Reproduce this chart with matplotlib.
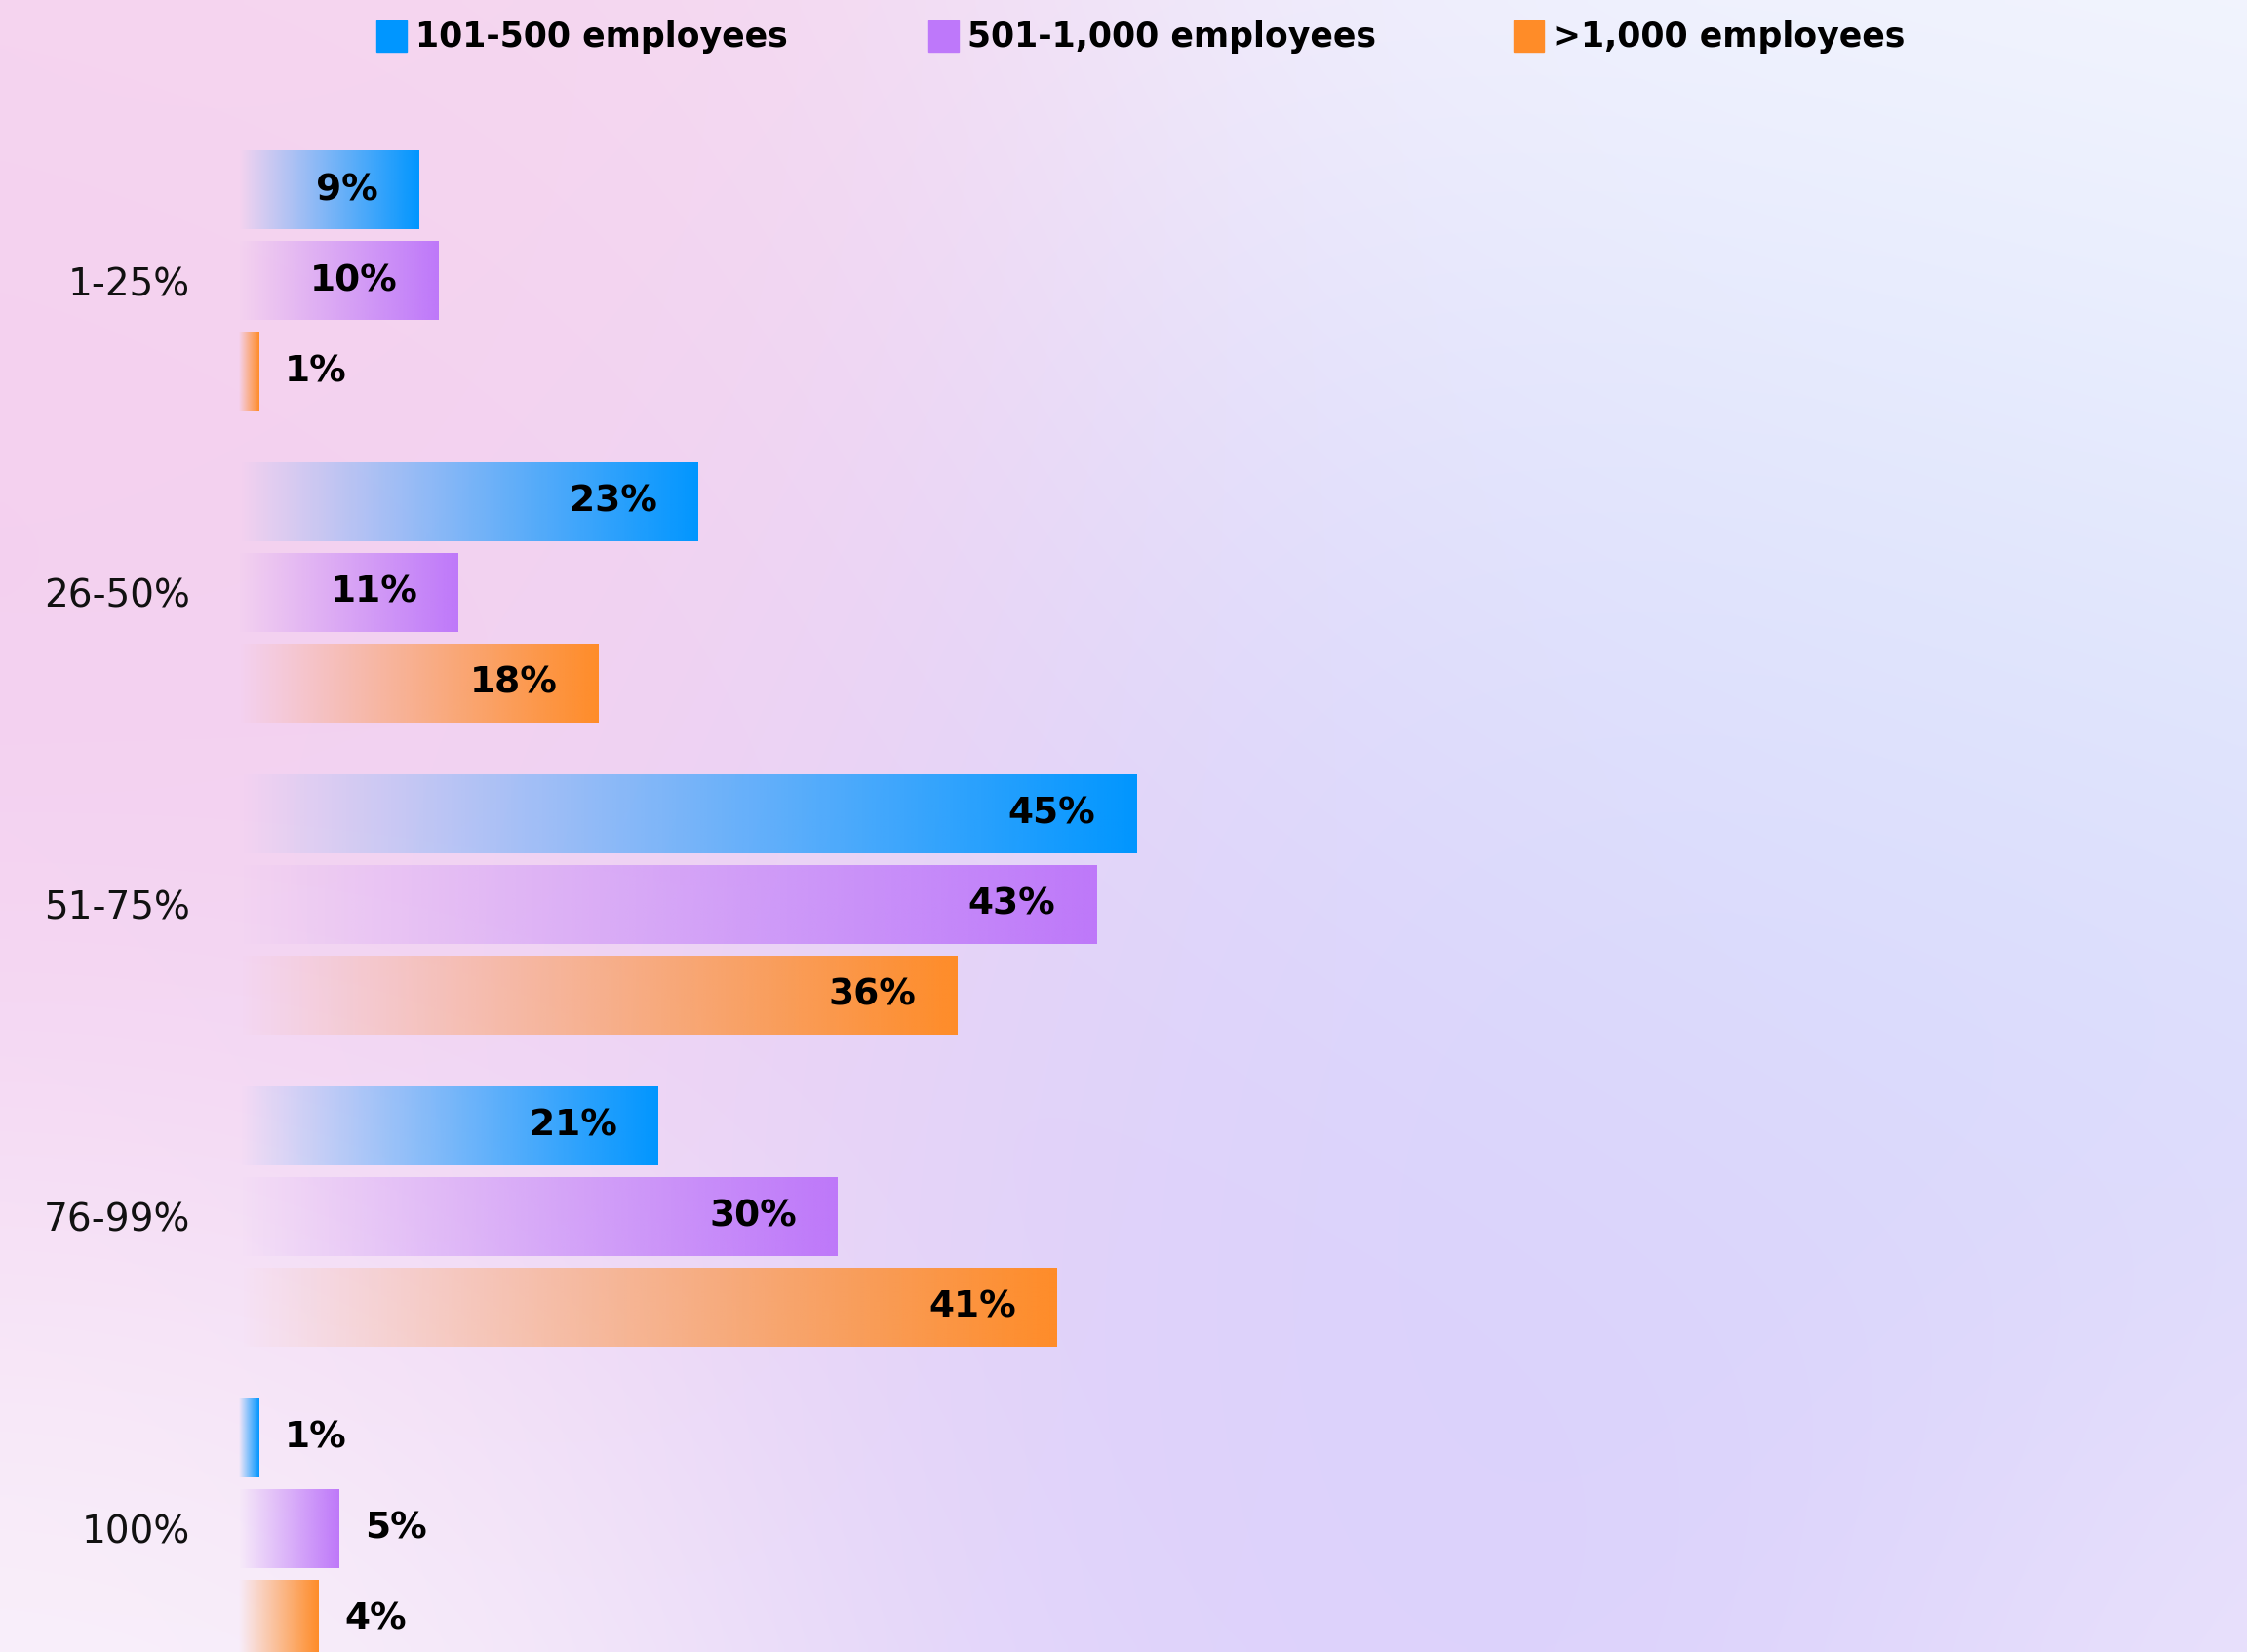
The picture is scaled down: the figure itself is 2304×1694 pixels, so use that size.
import numpy as np
import matplotlib
matplotlib.use("Agg")
import matplotlib.pyplot as plt
from matplotlib.colors import to_rgb
from matplotlib.patches import Rectangle

# share of work done remotely, by company size
categories = ['1-25%', '26-50%', '51-75%', '76-99%', '100%']
series = ['101-500 employees', '501-1,000 employees', '>1,000 employees']
small_co = [9, 23, 45, 21, 1]
mid_co = [10, 11, 43, 30, 5]
large_co = [1, 18, 36, 41, 4]
colors = ['#0096FF', '#BE78FA', '#FF8C28']

values = [small_co, mid_co, large_co]

W, H = 2304, 1694
fig = plt.figure(figsize=(W / 100, H / 100), dpi=100)

# soft colour wash behind everything
bg = fig.add_axes([0, 0, 1, 1], zorder=-1)
gh, gw = 170, 230
yy, xx = np.mgrid[0:gh, 0:gw]
xx = xx * W / gw
yy = yy * H / gh
blobs = [
    ('#F3C8EE', 0, 700, 650, 1.0),
    ('#F8D8EC', 300, 0, 500, 0.6),
    ('#D6CAFC', 1650, 1250, 600, 1.0),
    ('#D4E2FC', 2000, 600, 450, 1.3),
    ('#FCFCFE', 0, 1694, 420, 1.0),
    ('#FBFCFF', 2100, 0, 500, 1.5),
    ('#F2EAFC', 2304, 1694, 300, 0.6),
]
acc = np.zeros((gh, gw, 3))
wsum = np.full((gh, gw), 0.2)
acc += 0.2 * np.array(to_rgb('#F4EEFB'))
for c, cx, cy, s, k in blobs:
    w = k * np.exp(-((xx - cx) ** 2 + (yy - cy) ** 2) / (2 * s ** 2))
    acc += w[..., None] * np.array(to_rgb(c))
    wsum += w
bg.imshow(acc / wsum[..., None], extent=(0, 1, 0, 1), aspect='auto', interpolation='bilinear')
bg.set_axis_off()

ax = fig.add_axes([245 / W, 0, 1 - 245 / W, 1])
ax.patch.set_alpha(0)

group_gap = 3.44
bar_h = 0.87
centers = np.arange(len(categories)) * group_gap

ramp = np.linspace(0, 1, 256)
for si, (vals, col) in enumerate(zip(values, colors)):
    rgb = np.array(to_rgb(col))
    img = np.zeros((1, 256, 4))
    img[0, :, :3] = rgb
    img[0, :, 3] = ramp
    for ci, v in enumerate(vals):
        y = centers[ci] + (si - 1)
        ax.imshow(img, extent=(0, v, y + bar_h / 2, y - bar_h / 2),
                  aspect='auto', interpolation='bilinear', zorder=2)
        if v >= 8:
            ax.annotate(f'{v}%', (v, y), xytext=(-30, 0), textcoords='offset points',
                        ha='right', va='center', fontsize=27, fontweight='bold',
                        zorder=3)
        else:
            ax.annotate(f'{v}%', (v, y), xytext=(19, 0), textcoords='offset points',
                        ha='left', va='center', fontsize=27, fontweight='bold',
                        zorder=3)

ax.set_xlim(0, 100.7)
ax.set_ylim(15.118, -3.097)
ax.set_xticks([])
ax.set_yticks(centers)
ax.set_yticklabels(categories, fontsize=28, color='#111111')
ax.tick_params(axis='y', length=0, pad=36)
for sp in ax.spines.values():
    sp.set_visible(False)

# legend across the top
leg_x = [386, 952, 1552]
for name, col, lx in zip(series, colors, leg_x):
    fig.patches.append(Rectangle((lx / W, 1 - 53 / H), 31 / W, 32 / H,
                                 transform=fig.transFigure, color=col))
    fig.text((lx + 40) / W, 1 - 38 / H, name, ha='left', va='center',
             fontsize=25, fontweight='bold')

fig.savefig('out.png', dpi=100)
